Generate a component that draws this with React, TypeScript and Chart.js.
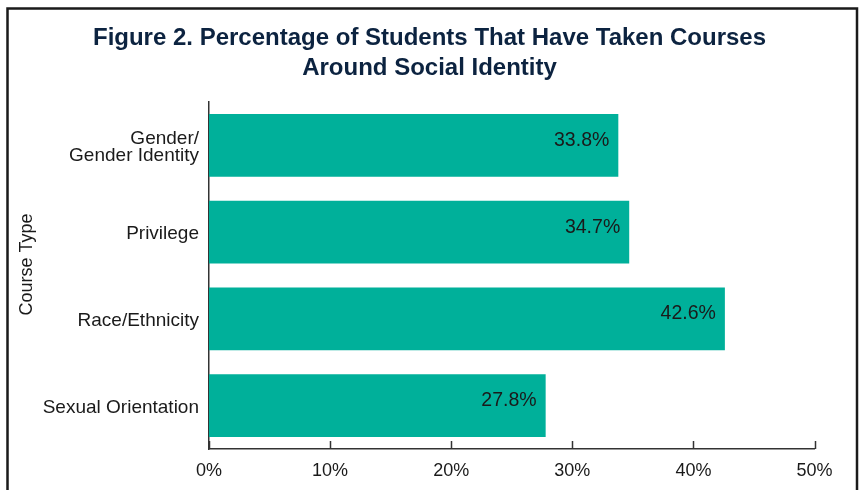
import React, { useEffect, useRef } from "react";
import { Chart, registerables } from "chart.js";

Chart.register(...registerables);

// ---- Data ----
const TITLE_LINES = [
  "Figure 2. Percentage of Students That Have Taken Courses",
  "Around Social Identity",
];
const CATEGORIES: (string | string[])[] = [
  ["Gender/", "Gender Identity"],
  "Privilege",
  "Race/Ethnicity",
  "Sexual Orientation",
];
const VALUES = [33.8, 34.7, 42.6, 27.8];
const Y_TITLE = "Course Type";
const X_MIN = 0;
const X_MAX = 50;
const X_STEP = 10;

// ---- Styles ----
const BAR_COLOR = "#00B09A";
const TITLE_COLOR = "#0C2340";
const TEXT_COLOR = "#1a1a1a";
const AXIS_COLOR = "#333333";
const FONT = '"Liberation Sans", Arial, sans-serif';

const decor = {
  id: "decor",
  beforeDraw(chart: any) {
    const ctx = chart.ctx;
    ctx.save();
    ctx.strokeStyle = "#1a1a1a";
    ctx.lineWidth = 2.5;
    ctx.strokeRect(7.5, 8.5, 849.5, 600);
    ctx.restore();
  },
  afterDraw(chart: any) {
    const ctx = chart.ctx;
    const W = chart.width;
    // Title
    ctx.save();
    ctx.fillStyle = TITLE_COLOR;
    ctx.font = `bold 24px ${FONT}`;
    ctx.textAlign = "center";
    ctx.textBaseline = "middle";
    TITLE_LINES.forEach((line, i) => ctx.fillText(line, W / 2, 38.5 + i * 29.5));
    ctx.restore();

    // Y axis title
    ctx.save();
    ctx.fillStyle = TEXT_COLOR;
    ctx.font = `18px ${FONT}`;
    ctx.textAlign = "center";
    ctx.textBaseline = "middle";
    ctx.translate(27.5, 264.5);
    ctx.rotate(-Math.PI / 2);
    ctx.fillText(Y_TITLE, 0, 0);
    ctx.restore();

    // Inward tick marks on x axis
    const xs = chart.scales.x;
    const bottom = chart.chartArea.bottom;
    ctx.save();
    ctx.strokeStyle = AXIS_COLOR;
    ctx.lineWidth = 1.5;
    xs.ticks.forEach((t: any) => {
      const px = Math.round(xs.getPixelForValue(t.value)) + 0.5;
      ctx.beginPath();
      ctx.moveTo(px, bottom);
      ctx.lineTo(px, bottom - 8);
      ctx.stroke();
    });
    ctx.restore();

    // Value labels
    const meta = chart.getDatasetMeta(0);
    ctx.save();
    ctx.fillStyle = TEXT_COLOR;
    ctx.font = `19.5px ${FONT}`;
    ctx.textAlign = "right";
    ctx.textBaseline = "middle";
    meta.data.forEach((bar: any, i: number) => {
      ctx.fillText(VALUES[i].toFixed(1) + "%", bar.x - 9, bar.y - 5);
    });
    ctx.restore();
  },
};

export default function App() {
  const ref = useRef<HTMLCanvasElement | null>(null);
  useEffect(() => {
    if (!ref.current) return;
    const chart = new Chart(ref.current, {
      type: "bar",
      data: {
        labels: CATEGORIES as any,
        datasets: [
          {
            data: VALUES,
            backgroundColor: BAR_COLOR,
            borderWidth: 0,
            barPercentage: 0.724,
            categoryPercentage: 1,
          },
        ],
      },
      options: {
        indexAxis: "y",
        animation: false,
        responsive: false,
        devicePixelRatio: 1,
        layout: { padding: { top: 102, right: 44.5, bottom: 0, left: 0 } },
        plugins: {
          legend: { display: false },
          title: { display: false },
          tooltip: { enabled: false },
        },
        scales: {
          x: {
            type: "linear",
            min: X_MIN,
            max: X_MAX,
            grid: { display: false, drawTicks: false },
            border: { display: true, color: AXIS_COLOR, width: 1.5 },
            ticks: {
              stepSize: X_STEP,
              padding: 11,
              color: TEXT_COLOR,
              font: { family: FONT, size: 18 },
              callback: (v: any) => v + "%",
            },
            afterFit: (s: any) => {
              s.height = 41;
            },
          },
          y: {
            type: "category",
            grid: { display: false, drawTicks: false },
            border: { display: true, color: AXIS_COLOR, width: 1.5 },
            ticks: {
              padding: 10,
              labelOffset: 2,
              color: TEXT_COLOR,
              font: { family: FONT, size: 19, lineHeight: 0.87 },
            },
            afterFit: (s: any) => {
              s.width = 209;
            },
          },
        },
      },
      plugins: [decor],
    });
    return () => chart.destroy();
  }, []);
  return (
    <div style={{ position: "fixed", left: 0, top: 0, width: 859, height: 490, background: "#fff" }}>
      <canvas ref={ref} width={859} height={490} style={{ width: 859, height: 490 }} />
    </div>
  );
}
